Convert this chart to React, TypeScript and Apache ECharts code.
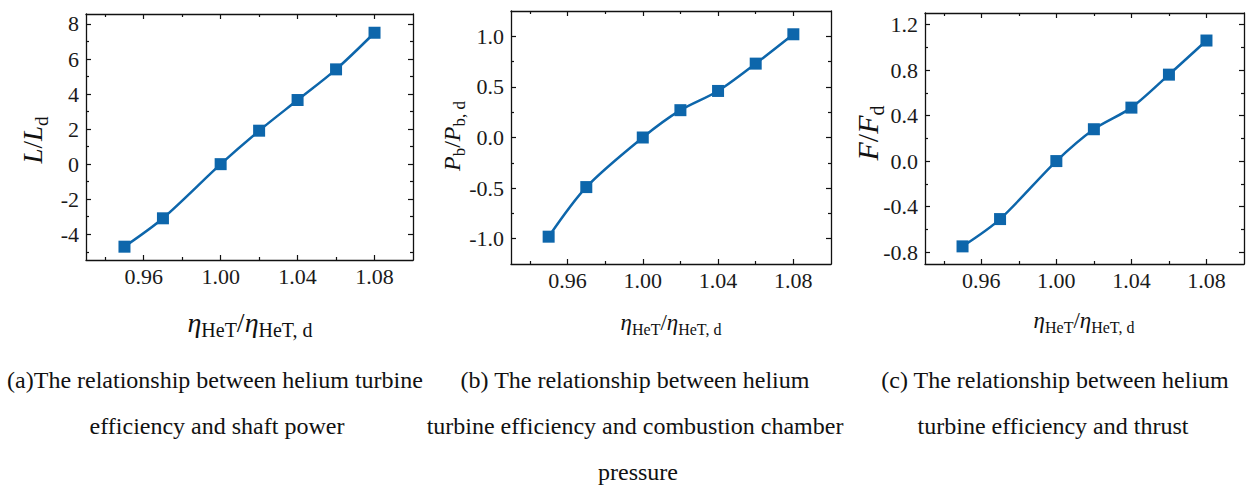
import React, { useEffect, useRef } from "react";
import * as echarts from "echarts";

// ---- data ----
const efficiencyRatio = [0.95, 0.97, 1.0, 1.02, 1.04, 1.06, 1.08];
const shaftPower = [-4.71, -3.09, 0, 1.91, 3.66, 5.41, 7.5];
const chamberPressure = [-0.98, -0.49, 0, 0.27, 0.46, 0.73, 1.02];
const thrust = [-0.75, -0.51, 0, 0.28, 0.47, 0.76, 1.06];

const xMajorTicks = [0.96, 1.0, 1.04, 1.08];
const xMinorTicks = [0.94, 0.98, 1.02, 1.06];
const yMajorA = [-4, -2, 0, 2, 4, 6, 8];
const yMinorA = [-5, -3, -1, 1, 3, 5, 7];
const yMajorB = [-1, -0.5, 0, 0.5, 1];
const yMinorB = [-0.75, -0.25, 0.25, 0.75];
const yMajorC = [-0.8, -0.4, 0, 0.4, 0.8, 1.2];
const yMinorC = [-0.6, -0.2, 0.2, 0.6, 1.0];

const captionA = ["(a)The relationship between helium turbine", "efficiency and shaft power"];
const captionB = ["(b) The relationship between helium", "turbine efficiency and combustion chamber", "pressure"];
const captionC = ["(c) The relationship between helium", "turbine efficiency and thrust"];

const FONT = "'Liberation Serif', 'Times New Roman', serif";
const LINE_COLOR = "#0d66ab";
const AXIS_COLOR = "#111";

type Panel = {
  grid: { left: number; top: number; width: number; height: number };
  xMin: number; xMax: number; yMin: number; yMax: number;
  yMajor: number[]; yMinor: number[]; yDigits: number;
  values: number[];
};

const panels: Panel[] = [
  { grid: { left: 86, top: 14, width: 327, height: 246 }, xMin: 0.93, xMax: 1.1, yMin: -5.47, yMax: 8.57, yMajor: yMajorA, yMinor: yMinorA, yDigits: 0, values: shaftPower },
  { grid: { left: 511, top: 11, width: 320, height: 253 }, xMin: 0.93, xMax: 1.1, yMin: -1.25, yMax: 1.25, yMajor: yMajorB, yMinor: yMinorB, yDigits: 1, values: chamberPressure },
  { grid: { left: 925, top: 13, width: 319, height: 251 }, xMin: 0.93, xMax: 1.1, yMin: -0.905, yMax: 1.302, yMajor: yMajorC, yMinor: yMinorC, yDigits: 1, values: thrust },
];

function axisSet(dim: "x" | "y", gi: number, min: number, max: number, majors: number[], minors: number[], digits: number) {
  const positions = dim === "x" ? ["bottom", "top"] : ["left", "right"];
  const out: any[] = [];
  positions.forEach((pos, pi) => {
    [true, false].forEach((major) => {
      out.push({
        type: "value",
        gridIndex: gi,
        position: pos,
        min,
        max,
        axisLine: { show: major, onZero: false, lineStyle: { color: AXIS_COLOR, width: 1.3 } },
        axisTick: {
          show: true,
          inside: true,
          length: major ? 5 : 3,
          customValues: major ? majors : minors,
          lineStyle: { color: AXIS_COLOR, width: 1.2 },
        },
        axisLabel: {
          show: major && pi === 0,
          customValues: majors,
          formatter: (v: number) => v.toFixed(digits),
          fontFamily: FONT,
          fontSize: 22,
          color: "#1a1a1a",
          margin: dim === "x" ? 5 : 7,
        },
        splitLine: { show: false },
        minorTick: { show: false },
      });
    });
  });
  return out;
}

function nameRich(main: number, sub: number) {
  const lh = Math.round(main * 1.3);
  return {
    i: { fontFamily: FONT, fontStyle: "italic", fontSize: main, lineHeight: lh, fill: "#111", color: "#111" },
    n: { fontFamily: FONT, fontSize: main, lineHeight: lh, fill: "#111", color: "#111" },
    s: { fontFamily: FONT, fontSize: sub, lineHeight: sub, verticalAlign: "bottom", fill: "#111", color: "#111" },
  };
}

function nameText(x: number, y: number, text: string, main: number, sub: number, rotate: boolean) {
  return {
    type: "text",
    x,
    y,
    rotation: rotate ? Math.PI / 2 : 0,
    style: {
      text,
      rich: nameRich(main, sub),
      align: "center",
      verticalAlign: "middle",
      fill: "#111",
    },
  };
}

function captionTexts(lines: string[], xs: number[]) {
  const ys = [380, 426, 472];
  return lines.map((t, i) => ({
    type: "text",
    x: xs[i],
    y: ys[i],
    style: {
      text: t,
      fontFamily: FONT,
      fontSize: 24,
      fill: "#111",
      align: "center",
      verticalAlign: "middle",
    },
  }));
}

export default function App() {
  const ref = useRef<HTMLDivElement>(null);
  useEffect(() => {
    document.body.style.margin = "0";
    if (!ref.current) return;
    const chart = echarts.init(ref.current, null, { renderer: "svg" });
    const xAxis: any[] = [];
    const yAxis: any[] = [];
    const series: any[] = [];
    panels.forEach((p, gi) => {
      const xStart = xAxis.length;
      const yStart = yAxis.length;
      xAxis.push(...axisSet("x", gi, p.xMin, p.xMax, xMajorTicks, xMinorTicks, 2));
      yAxis.push(...axisSet("y", gi, p.yMin, p.yMax, p.yMajor, p.yMinor, p.yDigits));
      series.push({
        type: "line",
        xAxisIndex: xStart,
        yAxisIndex: yStart,
        data: efficiencyRatio.map((x, i) => [x, p.values[i]]),
        smooth: 0.3,
        symbol: "rect",
        symbolSize: 12,
        lineStyle: { color: LINE_COLOR, width: 2.5 },
        itemStyle: { color: LINE_COLOR },
        z: 5,
      });
    });
    const eta = "{i|η}{s|HeT}{n|/}{i|η}{s|HeT, d}";
    chart.setOption({
      animation: false,
      backgroundColor: "#fff",
      grid: panels.map((p) => ({ ...p.grid, containLabel: false })),
      xAxis,
      yAxis,
      series,
      graphic: [
        nameText(33, 140, "{i|L}{n|/}{i|L}{s|d}", 27, 19, true),
        nameText(452, 136, "{i|P}{s|b}{n|/}{i|P}{s|b, d}", 24, 17, true),
        nameText(867, 133, "{i|F}{n|/}{i|F}{s|d}", 30, 20, true),
        nameText(250, 322, eta, 28, 20, false),
        nameText(671, 322, eta, 23, 16, false),
        nameText(1084, 320, eta, 23, 16, false),
        ...captionTexts(captionA, [215, 217]),
        ...captionTexts(captionB, [635, 635, 638]),
        ...captionTexts(captionC, [1055, 1053]),
      ],
    });
    return () => chart.dispose();
  }, []);
  return <div ref={ref} style={{ width: 1246, height: 488 }} />;
}
